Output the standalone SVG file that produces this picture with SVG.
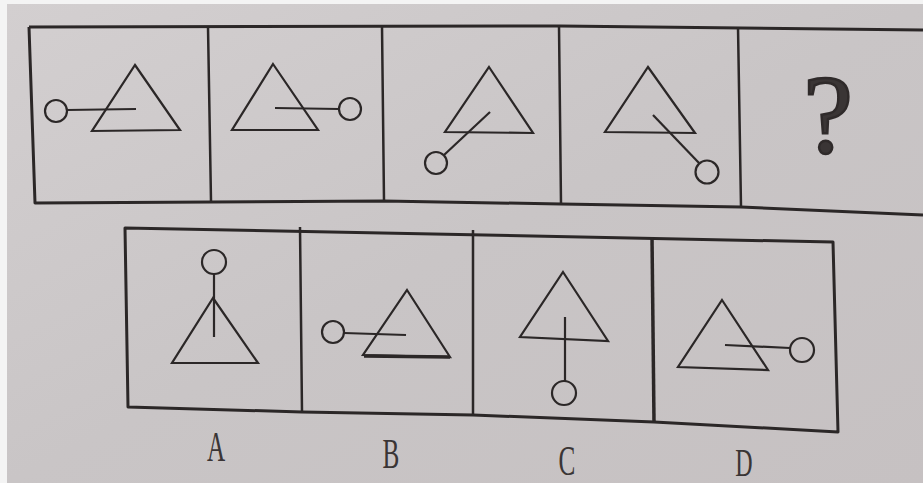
<svg xmlns="http://www.w3.org/2000/svg" width="923" height="483" viewBox="0 0 923 483">
<style>
.frame{fill:none;stroke:#2b2727;stroke-width:3;stroke-linejoin:round}
.div{fill:none;stroke:#2b2727;stroke-width:2.5}
.fig{fill:none;stroke:#2b2727;stroke-width:2.2;stroke-linejoin:miter}
.lbl{font-family:"Liberation Serif","Times New Roman",serif;fill:#3a3535}
</style>
<defs>
<linearGradient id="paper" x1="0" y1="0" x2="1" y2="1">
<stop offset="0" stop-color="#d3cfd0"/>
<stop offset="0.5" stop-color="#c9c5c6"/>
<stop offset="1" stop-color="#c6c1c2"/>
</linearGradient>
</defs>
<rect x="0" y="0" width="923" height="483" fill="#f4f4f4"/>
<rect x="7" y="4" width="916" height="479" fill="url(#paper)"/>
<g id="top-row">
<path class="frame" d="M29,27 L560,26 L923,30 M29,27 L35,203 L384,201 L561,204 L741,207 L923,215"/>
<path class="div" d="M208,27 L211,201 M382,26 L384,201 M559,26 L561,204 M738,27 L741,207"/>
</g>
<g id="panel-1">
<path class="fig" d="M135,65 L180,130 L92,131 Z"/>
<line class="fig" x1="67" y1="110" x2="136" y2="109"/>
<circle class="fig" cx="56" cy="111" r="11"/>
</g>
<g id="panel-2">
<path class="fig" d="M273,64 L318,130 L232,130 Z"/>
<line class="fig" x1="275" y1="108" x2="339" y2="109"/>
<circle class="fig" cx="350" cy="109" r="11"/>
</g>
<g id="panel-3">
<path class="fig" d="M489,67 L533,133 L445,132 Z"/>
<line class="fig" x1="490" y1="112" x2="444" y2="155"/>
<circle class="fig" cx="436" cy="163" r="11"/>
</g>
<g id="panel-4">
<path class="fig" d="M648,67 L695,133 L605,132 Z"/>
<line class="fig" x1="653" y1="115" x2="699" y2="163"/>
<circle class="fig" cx="707" cy="172" r="11.5"/>
</g>
<g id="panel-5">
<text class="lbl" x="828" y="152" font-size="112" text-anchor="middle" fill="#2f2a2a" stroke="#2f2a2a" stroke-width="2.5">?</text>
</g>
<g id="bottom-row">
<path class="frame" d="M125,228 L833,242 L838,432 L654,422 L473,415 L302,412 L128,407 Z"/>
<path class="div" d="M300,227 L302,412 M473,230 L473,415"/>
<path class="div" style="stroke-width:3.5" d="M652,237 L654,422"/>
</g>
<g id="option-A">
<path class="fig" d="M213,298 L258,363 L172,363 Z"/>
<line class="fig" x1="214" y1="274" x2="214" y2="337"/>
<circle class="fig" cx="214" cy="262" r="12"/>
</g>
<g id="option-B">
<path class="fig" d="M407,290 L450,357 L363,355 Z"/>
<line class="fig" style="stroke-width:3.5" x1="364" y1="356" x2="450" y2="357"/>
<line class="fig" x1="344" y1="333" x2="406" y2="335"/>
<circle class="fig" cx="333" cy="332" r="11"/>
</g>
<g id="option-C">
<path class="fig" d="M563,272 L608,341 L520,337 Z"/>
<line class="fig" x1="565" y1="317" x2="565" y2="381"/>
<circle class="fig" cx="564" cy="393" r="12"/>
</g>
<g id="option-D">
<path class="fig" d="M722,300 L768,370 L678,367 Z"/>
<line class="fig" x1="725" y1="345" x2="790" y2="348"/>
<circle class="fig" cx="802" cy="350" r="12"/>
</g>
<g id="labels">
<text class="lbl" font-size="42" transform="translate(216,461) scale(0.6,1)" text-anchor="middle">A</text>
<text class="lbl" font-size="42" transform="translate(391,468) scale(0.6,1)" text-anchor="middle">B</text>
<text class="lbl" font-size="42" transform="translate(567,475) scale(0.6,1)" text-anchor="middle">C</text>
<text class="lbl" font-size="40" transform="translate(744,476) scale(0.6,1)" text-anchor="middle">D</text>
</g>
</svg>
